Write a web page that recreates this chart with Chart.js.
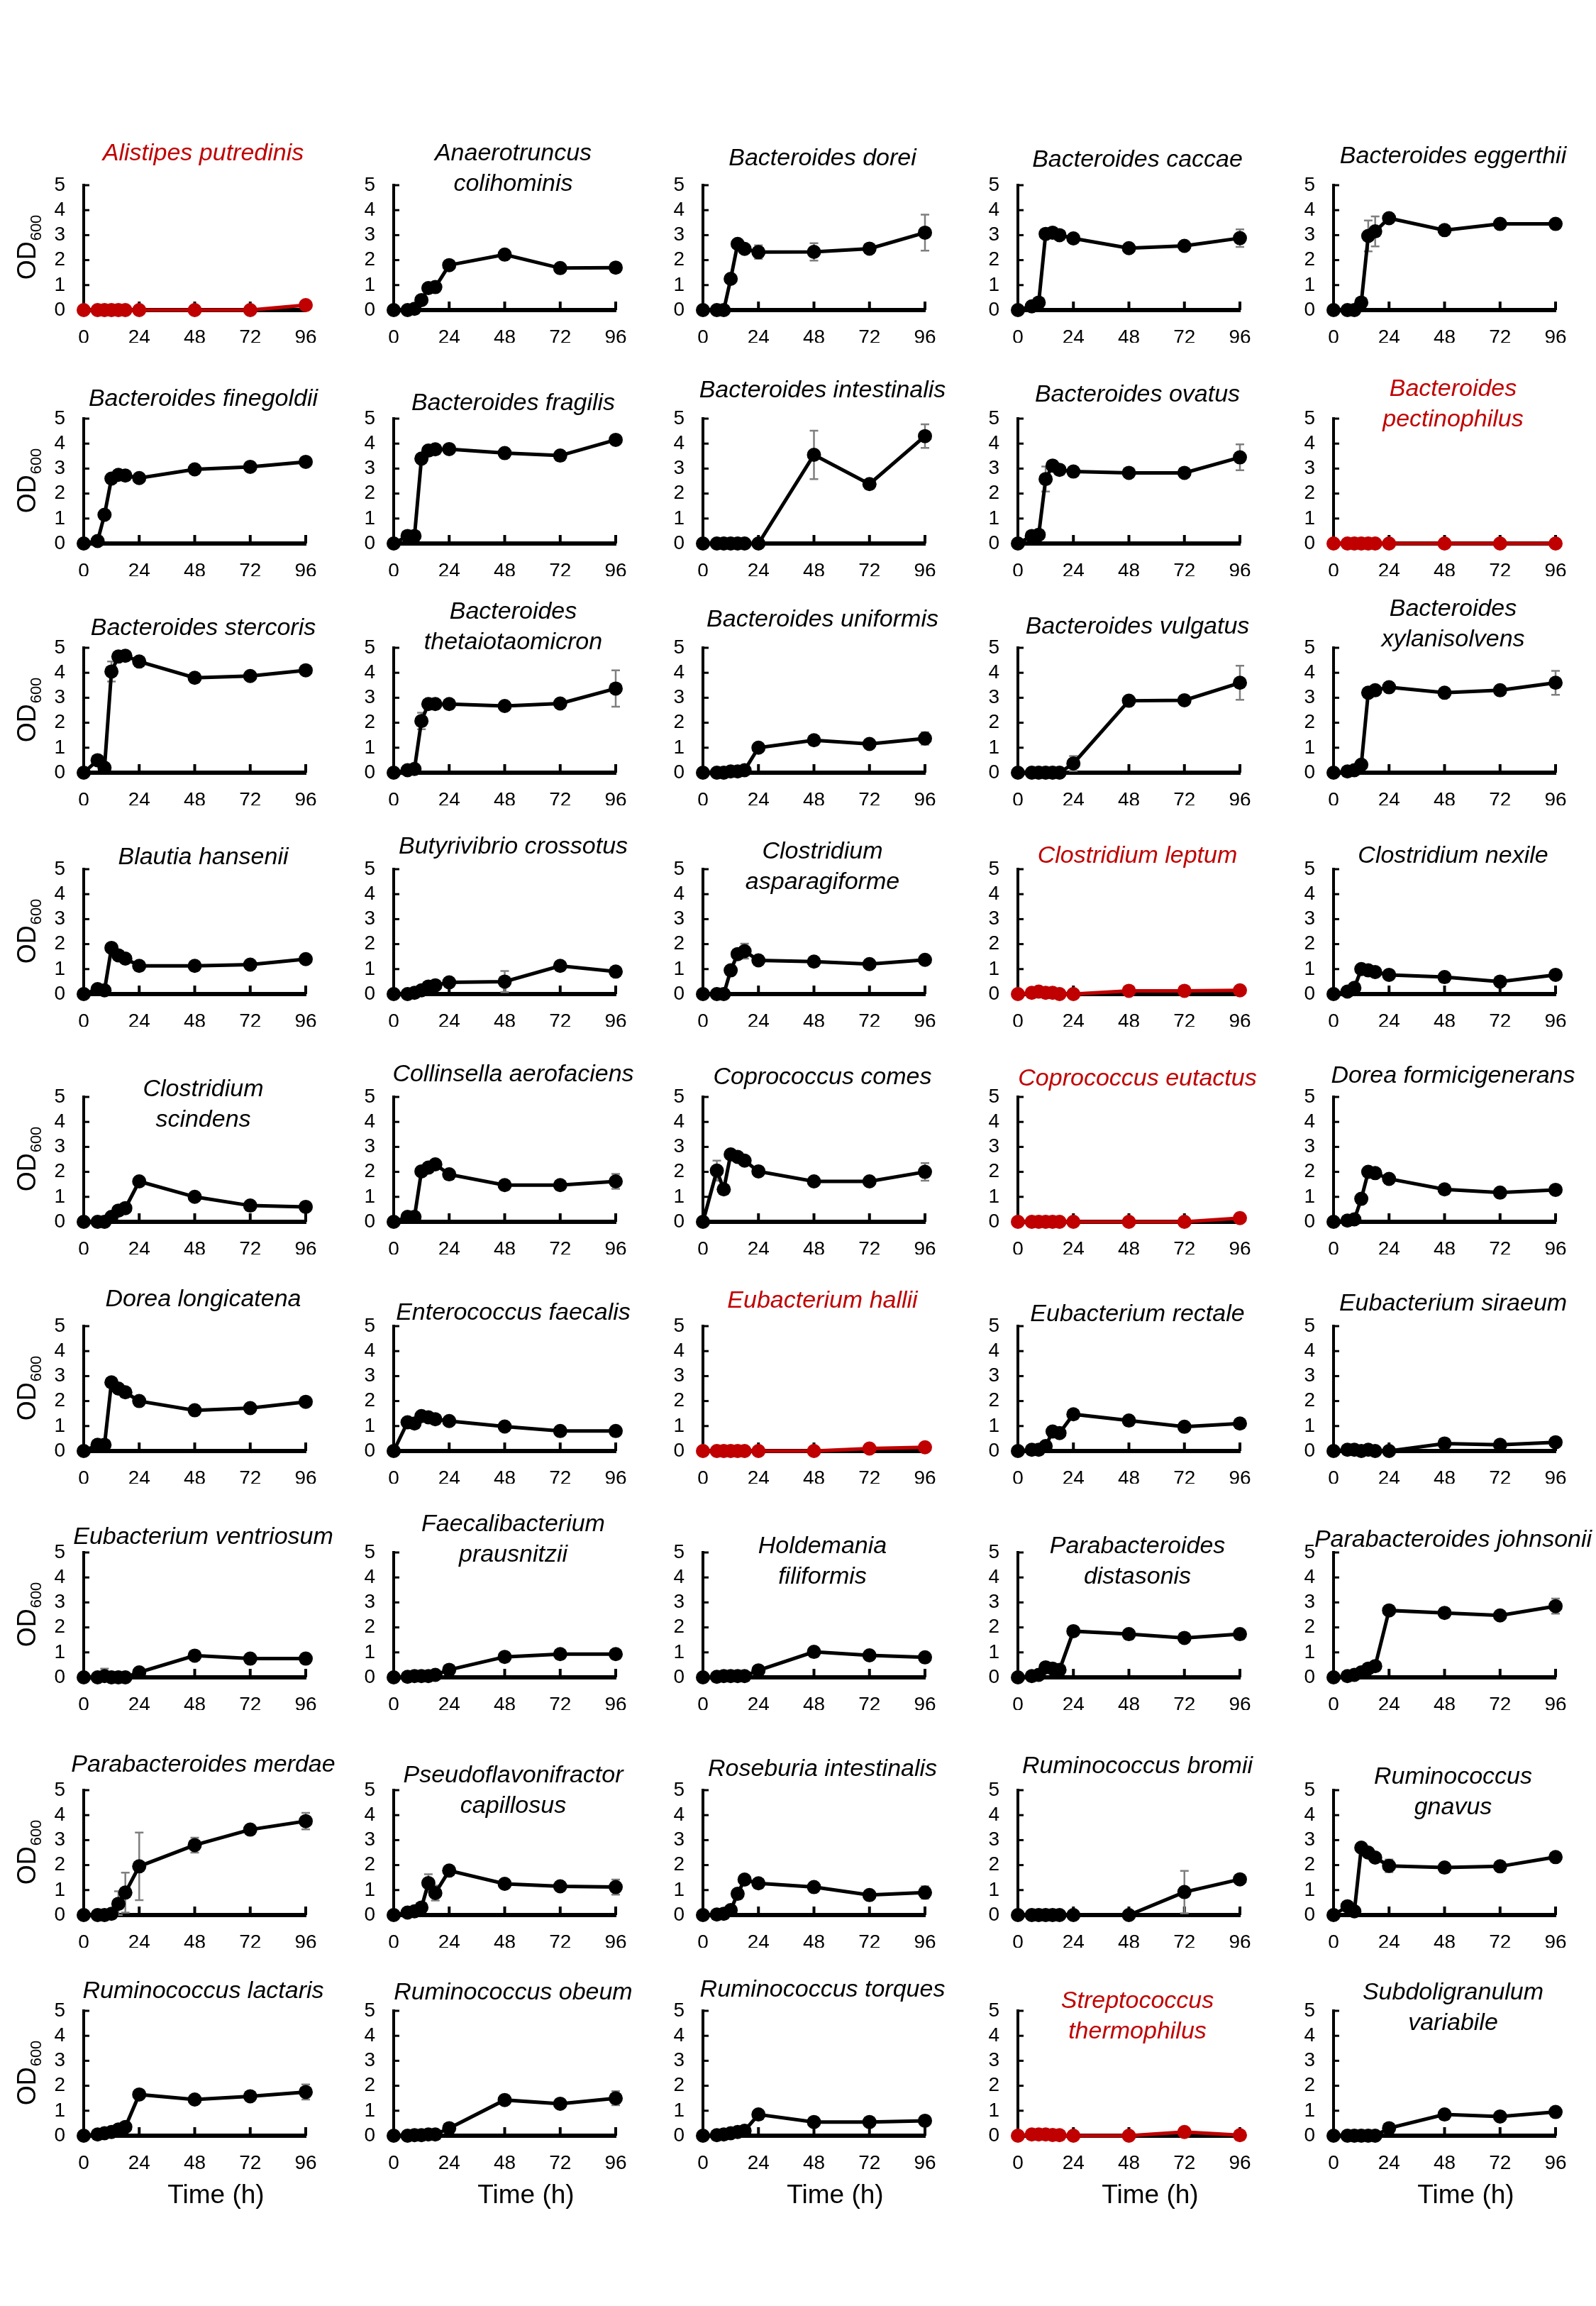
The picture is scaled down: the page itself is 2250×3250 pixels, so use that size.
<!DOCTYPE html>
<html>
<head>
<meta charset="utf-8">
<script src="https://cdn.jsdelivr.net/npm/chart.js@4.4.1/dist/chart.umd.min.js"></script>
<style>
body { margin: 0; background: #fff; }
#page { position: relative; width: 2250px; height: 3250px; background: #fff; overflow: hidden; }
#page canvas { position: absolute; }
</style>
</head>
<body>
<div id="page"></div>
<script>
// sampling times (h) and axis ticks
var times = [0, 6, 9, 12, 15, 18, 24, 48, 72, 96];
var xTicks = [0, 24, 48, 72, 96];
var yTicks = [0, 1, 2, 3, 4, 5];

var species = [
    ['Alistipes putredinis'], ['Anaerotruncus', 'colihominis'], ['Bacteroides dorei'], ['Bacteroides caccae'], ['Bacteroides eggerthii'],
    ['Bacteroides finegoldii'], ['Bacteroides fragilis'], ['Bacteroides intestinalis'], ['Bacteroides ovatus'], ['Bacteroides', 'pectinophilus'],
    ['Bacteroides stercoris'], ['Bacteroides', 'thetaiotaomicron'], ['Bacteroides uniformis'], ['Bacteroides vulgatus'], ['Bacteroides', 'xylanisolvens'],
    ['Blautia hansenii'], ['Butyrivibrio crossotus'], ['Clostridium', 'asparagiforme'], ['Clostridium leptum'], ['Clostridium nexile'],
    ['Clostridium', 'scindens'], ['Collinsella aerofaciens'], ['Coprococcus comes'], ['Coprococcus eutactus'], ['Dorea formicigenerans'],
    ['Dorea longicatena'], ['Enterococcus faecalis'], ['Eubacterium hallii'], ['Eubacterium rectale'], ['Eubacterium siraeum'],
    ['Eubacterium ventriosum'], ['Faecalibacterium', 'prausnitzii'], ['Holdemania', 'filiformis'], ['Parabacteroides', 'distasonis'], ['Parabacteroides johnsonii'],
    ['Parabacteroides merdae'], ['Pseudoflavonifractor', 'capillosus'], ['Roseburia intestinalis'], ['Ruminococcus bromii'], ['Ruminococcus', 'gnavus'],
    ['Ruminococcus lactaris'], ['Ruminococcus obeum'], ['Ruminococcus torques'], ['Streptococcus', 'thermophilus'], ['Subdoligranulum', 'variabile']
];

// strains that did not grow (drawn in red)
var noGrowth = [0, 9, 18, 23, 27, 43];

// mean OD600 per species, one value per sampling time
var od = [
    [0, 0, 0, 0, 0, 0, 0, 0, 0, 0.2],
    [0, 0, 0.05, 0.4, 0.88, 0.92, 1.8, 2.22, 1.68, 1.7],
    [0, 0, 0, 1.25, 2.65, 2.45, 2.32, 2.33, 2.46, 3.1],
    [0, 0.15, 0.3, 3.05, 3.1, 3.0, 2.87, 2.48, 2.57, 2.88],
    [0, 0, 0, 0.3, 2.97, 3.15, 3.68, 3.2, 3.45, 3.45],

    [0, 0.1, 1.15, 2.6, 2.75, 2.72, 2.62, 2.97, 3.07, 3.27],
    [0, 0.3, 0.3, 3.4, 3.72, 3.77, 3.78, 3.62, 3.52, 4.15],
    [0, 0, 0, 0, 0, 0, 0, 3.55, 2.38, 4.3],
    [0, 0.3, 0.35, 2.58, 3.12, 2.95, 2.88, 2.83, 2.83, 3.45],
    [0, 0, 0, 0, 0, 0, 0, 0, 0, 0],

    [0, 0.5, 0.2, 4.05, 4.65, 4.68, 4.45, 3.8, 3.87, 4.1],
    [0, 0.1, 0.15, 2.07, 2.75, 2.75, 2.75, 2.67, 2.77, 3.37],
    [0, 0, 0, 0.05, 0.05, 0.1, 1.0, 1.3, 1.15, 1.37],
    [0, 0, 0, 0, 0, 0, 0.37, 2.88, 2.9, 3.6],
    [0, 0.05, 0.1, 0.32, 3.2, 3.3, 3.42, 3.2, 3.3, 3.6],

    [0, 0.2, 0.15, 1.85, 1.55, 1.42, 1.13, 1.13, 1.18, 1.4],
    [0, 0, 0.05, 0.15, 0.3, 0.35, 0.47, 0.5, 1.13, 0.9],
    [0, 0, 0, 0.95, 1.6, 1.72, 1.35, 1.3, 1.2, 1.37],
    [0, 0.05, 0.1, 0.05, 0.05, 0, 0, 0.13, 0.13, 0.15],
    [0, 0.1, 0.25, 1.0, 0.95, 0.88, 0.77, 0.68, 0.5, 0.77],

    [0, 0, 0, 0.2, 0.45, 0.55, 1.62, 1.0, 0.65, 0.6],
    [0, 0.2, 0.2, 2.02, 2.17, 2.3, 1.9, 1.47, 1.47, 1.62],
    [0, 2.05, 1.3, 2.7, 2.6, 2.45, 2.02, 1.62, 1.62, 2.0],
    [0, 0, 0, 0, 0, 0, 0, 0, 0, 0.15],
    [0, 0.05, 0.1, 0.92, 2.0, 1.95, 1.72, 1.3, 1.17, 1.28],

    [0, 0.25, 0.25, 2.75, 2.5, 2.35, 2.0, 1.63, 1.72, 1.97],
    [0, 1.15, 1.1, 1.4, 1.35, 1.27, 1.2, 0.98, 0.8, 0.8],
    [0, 0, 0, 0, 0, 0, 0, 0, 0.1, 0.15],
    [0, 0.05, 0.05, 0.2, 0.78, 0.72, 1.47, 1.22, 0.97, 1.1],
    [0, 0.05, 0.05, 0, 0.05, 0, 0, 0.3, 0.25, 0.35],

    [0, 0, 0.05, 0, 0, 0, 0.2, 0.87, 0.75, 0.75],
    [0, 0.02, 0.05, 0.05, 0.05, 0.1, 0.3, 0.82, 0.93, 0.93],
    [0, 0.02, 0.05, 0.05, 0.05, 0.05, 0.28, 1.02, 0.88, 0.8],
    [0, 0.05, 0.1, 0.4, 0.35, 0.3, 1.85, 1.73, 1.58, 1.73],
    [0, 0.05, 0.1, 0.2, 0.35, 0.45, 2.68, 2.58, 2.48, 2.85],

    [0, 0, 0, 0.05, 0.45, 0.9, 1.95, 2.8, 3.42, 3.76],
    [0, 0.1, 0.15, 0.3, 1.28, 0.88, 1.78, 1.25, 1.15, 1.12],
    [0, 0.02, 0.05, 0.2, 0.85, 1.42, 1.27, 1.12, 0.8, 0.9],
    [0, 0, 0, 0, 0, 0, 0, 0, 0.92, 1.43],
    [0, 0.35, 0.15, 2.7, 2.5, 2.3, 1.97, 1.9, 1.95, 2.32],

    [0, 0.05, 0.1, 0.15, 0.25, 0.35, 1.65, 1.45, 1.58, 1.75],
    [0, 0, 0.02, 0.02, 0.05, 0.05, 0.3, 1.43, 1.28, 1.5],
    [0, 0.02, 0.05, 0.1, 0.15, 0.2, 0.85, 0.55, 0.55, 0.6],
    [0, 0.05, 0.05, 0.05, 0.03, 0.02, 0, 0, 0.15, 0.02],
    [0, 0, 0, 0, 0, 0, 0.3, 0.85, 0.77, 0.95]
];

// standard deviation (error bars), 0 = no visible bar
var sd = [
    [0, 0, 0, 0, 0, 0, 0, 0, 0, 0],
    [0, 0, 0, 0, 0, 0, 0, 0, 0, 0],
    [0, 0, 0, 0, 0, 0, 0.27, 0.35, 0.1, 0.72],
    [0, 0, 0, 0, 0.12, 0, 0, 0, 0, 0.35],
    [0, 0, 0, 0, 0.62, 0.6, 0, 0, 0.05, 0.08],

    [0, 0, 0, 0, 0, 0, 0, 0, 0, 0],
    [0, 0, 0, 0, 0, 0, 0, 0, 0, 0],
    [0, 0, 0, 0, 0, 0, 0, 0.97, 0, 0.47],
    [0, 0, 0, 0.5, 0.15, 0, 0, 0, 0, 0.52],
    [0, 0, 0, 0, 0, 0, 0, 0, 0, 0],

    [0, 0, 0, 0.4, 0.15, 0, 0, 0, 0, 0],
    [0, 0, 0, 0.33, 0, 0, 0, 0, 0, 0.73],
    [0, 0, 0, 0, 0, 0, 0, 0, 0, 0.25],
    [0, 0, 0, 0, 0, 0, 0.3, 0, 0, 0.68],
    [0, 0, 0, 0, 0, 0, 0, 0, 0.15, 0.48],

    [0, 0, 0, 0, 0, 0, 0, 0, 0, 0],
    [0, 0, 0, 0, 0, 0, 0, 0.42, 0, 0],
    [0, 0, 0, 0, 0, 0.3, 0, 0, 0, 0],
    [0, 0, 0, 0, 0, 0, 0, 0, 0, 0],
    [0, 0, 0, 0, 0, 0, 0, 0, 0, 0],

    [0, 0, 0, 0, 0, 0, 0, 0, 0, 0],
    [0, 0, 0, 0, 0, 0, 0, 0, 0, 0.3],
    [0, 0.4, 0, 0, 0, 0, 0, 0, 0, 0.35],
    [0, 0, 0, 0, 0, 0, 0, 0, 0, 0.2],
    [0, 0, 0, 0, 0, 0, 0, 0, 0, 0.15],

    [0, 0, 0, 0, 0, 0, 0.15, 0, 0, 0],
    [0, 0, 0, 0, 0, 0, 0, 0, 0, 0],
    [0, 0, 0, 0, 0, 0, 0, 0, 0, 0],
    [0, 0, 0, 0, 0, 0, 0, 0, 0, 0],
    [0, 0, 0, 0, 0, 0, 0, 0.2, 0.15, 0],

    [0, 0, 0.3, 0, 0, 0, 0, 0, 0, 0.2],
    [0, 0, 0, 0, 0, 0, 0, 0, 0, 0],
    [0, 0, 0, 0, 0, 0, 0, 0, 0, 0],
    [0, 0, 0, 0, 0, 0, 0, 0, 0, 0.18],
    [0, 0, 0, 0, 0, 0, 0, 0, 0, 0.3],

    [0, 0, 0, 0, 0.5, 0.8, 1.35, 0.3, 0.15, 0.33],
    [0, 0, 0, 0, 0.35, 0.3, 0, 0, 0, 0.3],
    [0, 0, 0, 0, 0, 0, 0, 0, 0, 0.25],
    [0, 0, 0, 0, 0, 0, 0, 0, 0.85, 0],
    [0, 0, 0, 0, 0, 0, 0.25, 0, 0, 0.1],

    [0, 0, 0, 0, 0, 0, 0, 0, 0, 0.3],
    [0, 0, 0, 0, 0, 0, 0, 0, 0, 0.28],
    [0, 0, 0, 0, 0, 0, 0, 0, 0, 0],
    [0, 0, 0, 0, 0, 0, 0, 0, 0.15, 0],
    [0, 0, 0, 0, 0, 0, 0, 0, 0, 0]
];

// page layout (px): y-axis x position per column, top of plot per row,
// vertical offset of each title from the plot top
var colAxis = [118, 555, 991, 1435, 1880];
var rowTop = [261, 590, 913, 1225, 1546, 1869, 2188, 2523, 2834];
var titleDy = [
    -44, -44, -37, -35, -40,
    -27, -21, -39, -33, -41,
    -27, -50, -39, -29, -54,
    -16, -31, -24, -18, -18,
    -10, -31, -27, -25, -29,
    -37, -18, -35, -16, -31,
    -21, -39, -8, -8, -17,
    -35, -20, -29, -33, -18,
    -27, -25, -29, -13, -25
];

var FONT = "'Liberation Sans', Arial, sans-serif";
var RED = '#C00000';
var PLOT_W = 313;
var PLOT_H = 176;
var PAD_TOP = 100;
var CANVAS_W = 488;

Chart.defaults.font.family = FONT;

var panelPlugin = {
    id: 'panel',
    beforeDatasetsDraw: function(chart, args, opts) {
        var ctx = chart.ctx;
        var xs = chart.scales.x, ys = chart.scales.y;
        var area = chart.chartArea;
        ctx.save();
        ctx.strokeStyle = '#000';
        // tick marks point into the plot
        ctx.lineWidth = 4;
        for (var i = 1; i < xTicks.length; i++) {
            var px = xs.getPixelForValue(xTicks[i]);
            ctx.beginPath();
            ctx.moveTo(px, area.bottom);
            ctx.lineTo(px, area.bottom - 12);
            ctx.stroke();
        }
        ctx.lineWidth = 3;
        for (var j = 1; j < yTicks.length; j++) {
            var py = ys.getPixelForValue(yTicks[j]);
            ctx.beginPath();
            ctx.moveTo(area.left, py);
            ctx.lineTo(area.left + 8, py);
            ctx.stroke();
        }
        // error bars
        var k = opts.index;
        ctx.strokeStyle = '#7f7f7f';
        ctx.lineWidth = 2.5;
        for (var t = 0; t < times.length; t++) {
            var e = sd[k][t];
            if (!e) continue;
            var x = xs.getPixelForValue(times[t]);
            var y1 = ys.getPixelForValue(od[k][t] + e);
            var y2 = ys.getPixelForValue(Math.max(od[k][t] - e, 0));
            ctx.beginPath();
            ctx.moveTo(x, y1); ctx.lineTo(x, y2);
            ctx.moveTo(x - 6, y1); ctx.lineTo(x + 6, y1);
            ctx.moveTo(x - 6, y2); ctx.lineTo(x + 6, y2);
            ctx.stroke();
        }
        ctx.restore();
    },
    afterDraw: function(chart, args, opts) {
        var ctx = chart.ctx;
        var area = chart.chartArea;
        var k = opts.index;
        var cx = (area.left + area.right) / 2;
        ctx.save();
        // species name
        ctx.fillStyle = noGrowth.indexOf(k) >= 0 ? RED : '#000';
        ctx.font = 'italic 34px ' + FONT;
        ctx.textAlign = 'center';
        ctx.textBaseline = 'middle';
        var lines = species[k];
        for (var i = 0; i < lines.length; i++) {
            var w = ctx.measureText(lines[i]).width;
            var tx = Math.min(cx + 12, chart.width - 4 - w / 2);
            ctx.fillText(lines[i], tx, area.top + titleDy[k] + i * 43);
        }
        ctx.fillStyle = '#000';
        // OD600 label on the first column
        if (k % 5 == 0) {
            ctx.save();
            ctx.translate(40, (area.top + area.bottom) / 2);
            ctx.rotate(-Math.PI / 2);
            ctx.font = '36px ' + FONT;
            var w1 = ctx.measureText('OD').width;
            ctx.font = '22px ' + FONT;
            var w2 = ctx.measureText('600').width;
            var x0 = -(w1 + w2) / 2;
            ctx.textAlign = 'left';
            ctx.font = '36px ' + FONT;
            ctx.fillText('OD', x0, 0);
            ctx.font = '22px ' + FONT;
            ctx.fillText('600', x0 + w1 + 1, 12);
            ctx.restore();
        }
        // time axis title on the last row
        if (k >= 40) {
            ctx.font = '37px ' + FONT;
            ctx.textAlign = 'center';
            ctx.fillText('Time (h)', cx + 30, area.bottom + 85);
        }
        ctx.restore();
    }
};

function make_chart(k) {
    var row = Math.floor(k / 5), col = k % 5;
    var lastRow = row == 8;
    var xHeight = lastRow ? 154 : 46;
    var canvas = document.createElement('canvas');
    canvas.width = CANVAS_W;
    canvas.height = PAD_TOP + PLOT_H + xHeight;
    canvas.style.left = (colAxis[col] - 118) + 'px';
    canvas.style.top = (rowTop[row] - PAD_TOP) + 'px';
    document.getElementById('page').appendChild(canvas);

    var color = noGrowth.indexOf(k) >= 0 ? RED : '#000';
    var points = times.map(function(t, i) { return {x: t, y: od[k][i]}; });

    new Chart(canvas, {
        type: 'line',
        data: {
            datasets: [{
                data: points,
                borderColor: color,
                backgroundColor: color,
                borderWidth: 5,
                pointRadius: 10,
                pointHoverRadius: 10,
                pointBorderWidth: 0,
                tension: 0,
                clip: false
            }]
        },
        options: {
            responsive: false,
            animation: false,
            devicePixelRatio: 1,
            layout: { padding: { top: PAD_TOP, right: CANVAS_W - 118 - PLOT_W, left: 0, bottom: 0 } },
            events: [],
            plugins: {
                legend: { display: false },
                tooltip: { enabled: false },
                panel: { index: k }
            },
            scales: {
                x: {
                    type: 'linear',
                    min: 0,
                    max: 96,
                    afterBuildTicks: function(s) { s.ticks = xTicks.map(function(v) { return {value: v}; }); },
                    afterFit: function(s) { s.height = xHeight; },
                    grid: { display: false },
                    border: { display: true, color: '#000', width: 6 },
                    ticks: { color: '#000', font: { size: 28 }, padding: 14, maxRotation: 0, autoSkip: false }
                },
                y: {
                    min: 0,
                    max: 5,
                    afterBuildTicks: function(s) { s.ticks = yTicks.map(function(v) { return {value: v}; }); },
                    afterFit: function(s) { s.width = 118; },
                    grid: { display: false },
                    border: { display: true, color: '#000', width: 4 },
                    ticks: { color: '#000', font: { size: 28 }, padding: 18, autoSkip: false }
                }
            }
        },
        plugins: [panelPlugin]
    });
}

for (var k = 0; k < species.length; k++) {
    make_chart(k);
}
</script>
</body>
</html>
